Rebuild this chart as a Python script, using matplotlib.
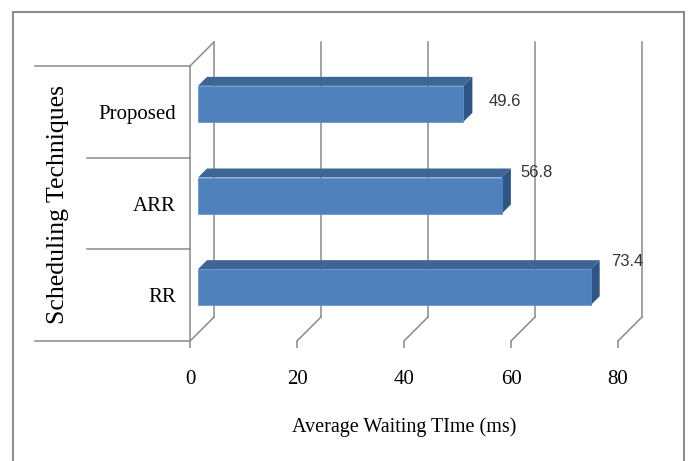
import matplotlib
matplotlib.use('Agg')
import matplotlib.pyplot as plt
from matplotlib.patches import Polygon, Rectangle
from matplotlib import transforms

# average waiting time per scheduling technique (bottom to top)
techniques = ['RR', 'ARR', 'Proposed']
wait_ms = [73.4, 56.8, 49.6]
x_ticks = [0, 20, 40, 60, 80]

# value label nudges in pixels (right, down) from the bar's back top corner
label_nudge = [(11, 1), (10, 4), (16, 25)]

SERIF = ['Liberation Serif', 'DejaVu Serif']
NARROW = ['Liberation Sans Narrow', 'Liberation Sans', 'DejaVu Sans']
GRID = '#8a8a8a'
FACE, TOP, SIDE = '#4f81bd', '#3d6696', '#2f5486'

# depth of the fake 3d box, in pixels
WALL = 24
BAR_FRONT, BAR_BACK = 8, 17
BAR_PX = 36

fig = plt.figure(figsize=(6.88, 4.61), dpi=100)
ax = fig.add_axes([190 / 688, 120 / 461, 428 / 688, 275 / 461])
ax.set_xlim(0, 80)
ax.set_ylim(-0.5, 2.5)

bb = ax.get_window_extent()
kx = 80 / bb.width
ky = 3 / bb.height


def back(x, y, d):
    # push a point d pixels into the box
    return x + d * kx, y + d * ky


# floor diagonals and back wall grid
for t in x_ticks:
    fx, fy = back(t, -0.5, WALL)
    tx, ty = back(t, 2.5, WALL)
    ax.plot([t, fx], [-0.5, fy], color=GRID, lw=1.1, clip_on=False, zorder=1)
    ax.plot([fx, tx], [fy, ty], color=GRID, lw=1.1, clip_on=False, zorder=1)

# left wall top edge
tx, ty = back(0, 2.5, WALL)
ax.plot([0, tx], [2.5, ty], color=GRID, lw=1.1, clip_on=False, zorder=1)

# category separators out to the left
blend = transforms.blended_transform_factory(fig.transFigure, ax.transData)
for yb in [-0.5, 0.5, 1.5, 2.5]:
    x0 = 35 / 688 if yb in (-0.5, 2.5) else 87 / 688
    ax.plot([x0, 190 / 688], [yb, yb], color=GRID, lw=1.1,
            transform=blend, clip_on=False, zorder=1)

# bars: front face plus top and side faces
bar_h = BAR_PX * ky
ypos = [i + BAR_FRONT * ky for i in range(len(techniques))]
ax.barh(ypos, wait_ms, height=bar_h, left=BAR_FRONT * kx, color=FACE,
        edgecolor='#5b8fcc', linewidth=0.5, zorder=3)

for i, v in enumerate(wait_ms):
    top = i + bar_h / 2
    bot = i - bar_h / 2
    top_face = [back(0, top, BAR_FRONT), back(v, top, BAR_FRONT),
                back(v, top, BAR_BACK), back(0, top, BAR_BACK)]
    side_face = [back(v, bot, BAR_FRONT), back(v, top, BAR_FRONT),
                 back(v, top, BAR_BACK), back(v, bot, BAR_BACK)]
    ax.add_patch(Polygon(top_face, closed=True, fc=TOP, ec='none',
                         clip_on=False, zorder=2))
    ax.add_patch(Polygon(side_face, closed=True, fc=SIDE, ec='none',
                         clip_on=False, zorder=2))

    cx, cy = back(v, top, BAR_BACK)
    nx, ny = label_nudge[i]
    ax.text(cx + nx * kx, cy - ny * ky, f'{v:.1f}', ha='left', va='center',
            fontsize=12, color='#333333', family=NARROW, zorder=4)

for side in ['top', 'right', 'bottom']:
    ax.spines[side].set_visible(False)
ax.spines['left'].set_color(GRID)
ax.spines['left'].set_linewidth(1.1)

ax.set_yticks(range(len(techniques)))
ax.set_yticklabels(techniques, family=SERIF, fontsize=15)
ax.tick_params(axis='y', length=0, pad=10)

ax.set_xticks(x_ticks)
ax.set_xticklabels([str(t) for t in x_ticks], family=SERIF, fontsize=15)
ax.tick_params(axis='x', length=5, width=1.1, color=GRID, pad=16)
ax.set_xlabel('Average Waiting TIme (ms)', family=SERIF, fontsize=14.5,
              labelpad=20)

fig.text(58 / 688, 1 - 205 / 461, 'Scheduling Techniques', rotation=90,
         ha='center', va='center', family=SERIF, fontsize=18.5)

# outer chart border
fig.add_artist(Rectangle((13 / 688, -0.05), (684 - 13) / 688, 1.05 - 12 / 461,
                         transform=fig.transFigure, fill=False,
                         ec='#8c8c8c', lw=1.5))

fig.savefig('out.png', dpi=100)
